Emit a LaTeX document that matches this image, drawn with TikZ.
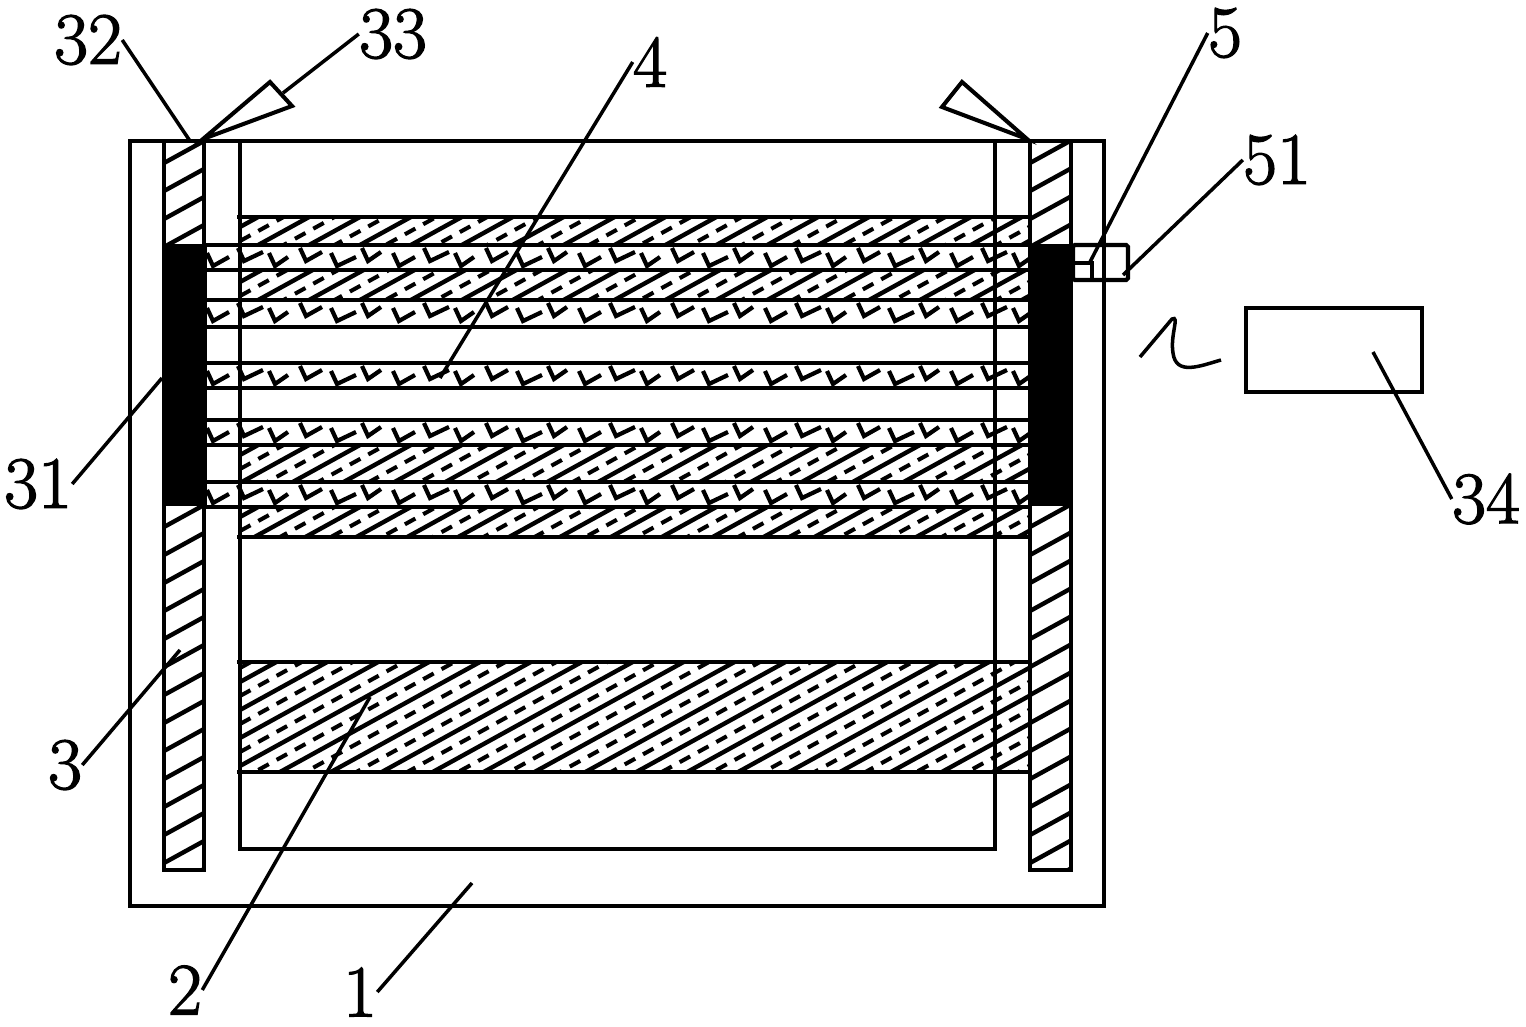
\documentclass[tikz,border=0pt]{standalone}
\usepackage{amsmath}
\usepackage{fontspec}
\newfontfamily\numfont[FakeBold=1.8]{Latin Modern Roman}
\usetikzlibrary{positioning}
\usetikzlibrary{calc}
\tikzset{
  wall/.style={line width=2.3pt},
  bandline/.style={line width=2.8pt},
  hatchline/.style={line width=2.5pt},
  dashline/.style={line width=2.3pt, dash pattern=on 6.8pt off 5.1pt},
  tickline/.style={line width=2.4pt},
  leader/.style={line width=2pt},
  numlab/.style={inner sep=0pt, font=\numfont\fontsize{42}{42}\selectfont}
}
\newcommand{\rodband}[4]{
  \begin{scope}
    \clip (#1,#2) rectangle (#3,#4);
    \foreach \k in {0,...,30} {
      \draw[hatchline] (#1,#2+\k*28-6) -- (#3,#2+\k*28-6-0.55*#3+0.55*#1);
    }
  \end{scope}
}
\newcommand{\dashband}[5]{
  \begin{scope}
    \clip (#1,#2) rectangle (#3,#4);
    \foreach \k in {0,...,24} {
      \draw[hatchline] (#1,#2+\k*28+#5) -- (#3,#2+\k*28+#5-0.55*#3+0.55*#1);
      \draw[dashline] (#1,#2+\k*28+#5-14) -- (#3,#2+\k*28+#5-14-0.55*#3+0.55*#1);
    }
  \end{scope}
}
\newcommand{\tickband}[4]{
  \begin{scope}
    \clip (#1,#2) rectangle (#3,#4);
    \foreach \i [count=\c] in {0,...,27} {
      \pgfmathsetmacro{\tx}{#1+3+31*\i}
      \pgfmathsetmacro{\ty}{#2+3+5*mod(\c,2)}
      \pgfmathsetmacro{\tw}{13+3*mod(\c,3)}
      \draw[tickline] (\tx,\ty) -- ++(6,13) -- ++(\tw,-9);
    }
  \end{scope}
}
\begin{document}
\begin{tikzpicture}[x=0.02cm,y=-0.02cm]
  \useasboundingbox (0,0) rectangle (1526,1027);
  \rodband{164}{141}{204}{870}
  \rodband{1030}{141}{1071}{870}
  \foreach \ya/\yb/\ph in {217/245/10,270/300/12,445/482/10,507/537/10,662/772/20} {
    \dashband{240}{\ya}{1030}{\yb}{\ph}
  }
  \foreach \ya/\yb in {245/270,300/327,363/388,420/445,482/507} {
    \tickband{204}{\ya}{1030}{\yb}
  }
  \fill (162,244) rectangle (207,506);
  \fill (1030,244) rectangle (1073,506);
  \foreach \yy in {245,270,300,327,363,388,420,445,482,507} {
    \draw[bandline] (204,\yy) -- (1030,\yy);
  }
  \foreach \yy in {217,537,662,772} {
    \draw[bandline] (237,\yy) -- (1030,\yy);
  }
  \draw[wall] (130,141) rectangle (1104,906);
  \draw[wall] (240,141) -- (240,849) -- (995,849) -- (995,141);
  \draw[wall] (164,141) rectangle (204,870);
  \draw[wall] (1030,141) rectangle (1071,870);
  \draw[wall] (203,139) -- (270,82) -- (292,106) -- cycle;
  \draw[wall] (1027,139) -- (962,82) -- (942,107) -- cycle;
  \draw[wall, rounded corners=1pt] (1073,245) rectangle (1128,280);
  \draw[wall] (1075,263) -- (1092,263) -- (1092,280);
  \node[draw, wall, minimum width=3.52cm, minimum height=1.68cm, inner sep=0pt] (box34) at (1334,350) {};
  \draw[leader] (1140,357) -- (1172,319) .. controls (1180,315) and (1170,335) .. (1173,353)
    .. controls (1176,376) and (1200,366) .. (1221,360);
  \foreach \lab/\px/\py in {32/88/40,33/393/34,4/650/62,5/1225/33,51/1277/160,
      31/38/484,3/65/765,2/185/990,1/360/992,34/1486/499} {
    \node[numlab] (lab\lab) at (\px,\py) {\lab};
  }
  \foreach \lab/\px/\py in {32/190/141,33/283/93,4/440/378,5/1090/262,51/1123/275,
      31/162/378,3/180/650,2/370/697,1/472/883,34/1373/352} {
    \coordinate (tip\lab) at (\px,\py);
  }
  \foreach \lab/\anc in {32/east,33/west,4/west,5/west,51/west,31/east,3/east,2/east,1/east,34/west} {
    \draw[leader] (lab\lab.\anc) -- (tip\lab);
  }
\end{tikzpicture}
\end{document}
